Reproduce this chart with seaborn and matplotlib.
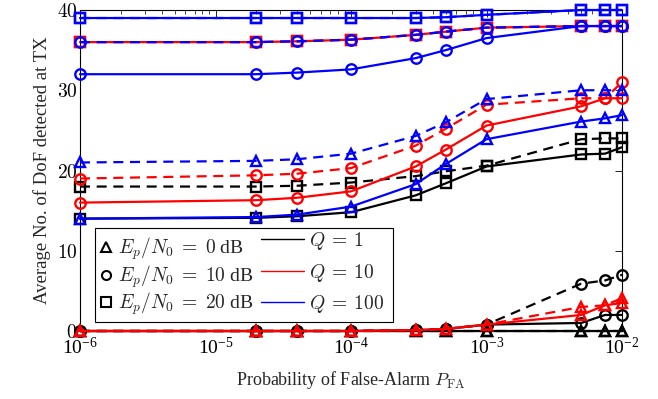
import matplotlib
matplotlib.use("Agg")
import matplotlib.pyplot as plt
import seaborn as sns
import pandas as pd
from matplotlib.lines import Line2D
from matplotlib.patches import Rectangle
from matplotlib.ticker import FixedLocator, FuncFormatter

sns.set_style("white")
plt.rcParams["font.family"] = ["Liberation Serif", "DejaVu Serif"]
plt.rcParams["mathtext.fontset"] = "cm"

# ---------------- data ----------------
pfa = [1e-6, 2e-5, 4e-5, 1e-4, 3e-4, 5e-4, 1e-3, 5e-3, 7.5e-3, 1e-2]

# Q = 1 (black)
q1_0db_solid = [0, 0, 0, 0, 0, 0, 0, 0, 0, 0]
q1_0db_dash = [0, 0, 0, 0, 0, 0, 0, 0, 0, 0]
q1_10db_solid = [0, 0, 0, 0, 0.1, 0.25, 0.8, 1.0, 2.0, 2.0]
q1_10db_dash = [0, 0, 0, 0, 0.1, 0.25, 0.8, 5.9, 6.3, 7.0]
q1_20db_solid = [14.0, 14.1, 14.3, 14.8, 16.9, 18.4, 20.5, 22.0, 22.1, 22.9]
q1_20db_dash = [18.0, 18.0, 18.1, 18.5, 19.3, 19.9, 20.6, 23.9, 24.0, 24.0]

# Q = 10 (red)
q10_0db_solid = [0, 0, 0, 0, 0.1, 0.25, 0.8, 2.0, 3.2, 3.5]
q10_0db_dash = [0, 0, 0, 0, 0.1, 0.25, 0.8, 3.0, 3.2, 4.1]
q10_10db_solid = [16.0, 16.3, 16.6, 17.4, 20.5, 22.6, 25.6, 28.0, 29.0, 29.0]
q10_10db_dash = [19.0, 19.4, 19.6, 20.3, 23.1, 25.2, 28.2, 29.0, 29.0, 31.0]
q10_20db_solid = [36.0, 36.0, 36.1, 36.3, 36.9, 37.3, 37.8, 38.0, 38.0, 38.0]
q10_20db_dash = [36.0, 36.0, 36.1, 36.3, 36.9, 37.3, 37.8, 38.0, 38.0, 38.0]

# Q = 100 (blue)
q100_0db_solid = [14.0, 14.2, 14.5, 15.5, 18.3, 20.8, 23.9, 26.1, 26.5, 26.9]
q100_0db_dash = [21.0, 21.2, 21.4, 22.1, 24.3, 26.0, 28.9, 30.0, 30.0, 30.0]
q100_10db_solid = [32.0, 32.0, 32.2, 32.6, 34.0, 35.0, 36.5, 38.0, 38.0, 38.0]
q100_10db_dash = [36.0, 36.0, 36.1, 36.3, 36.9, 37.3, 37.8, 38.0, 38.0, 38.0]
q100_20db_solid = [39.0, 39.0, 39.0, 39.0, 39.0, 39.1, 39.4, 40.0, 40.0, 40.0]
q100_20db_dash = [39.0, 39.0, 39.0, 39.0, 39.0, 39.1, 39.4, 40.0, 40.0, 40.0]

snr_labels = [r"$E_p/N_0\;=\;0$ dB", r"$E_p/N_0\;=\;10$ dB", r"$E_p/N_0\;=\;20$ dB"]
q_labels = [r"$Q\:=\:1$", r"$Q\:=\:10$", r"$Q\:=\:100$"]
xticks = [1e-6, 1e-5, 1e-4, 1e-3, 1e-2]
yticks = [0, 10, 20, 30, 40]

series = [
    ("k", "^", "-", q1_0db_solid), ("k", "^", "--", q1_0db_dash),
    ("k", "o", "-", q1_10db_solid), ("k", "o", "--", q1_10db_dash),
    ("k", "s", "-", q1_20db_solid), ("k", "s", "--", q1_20db_dash),
    ("red", "^", "-", q10_0db_solid), ("red", "^", "--", q10_0db_dash),
    ("red", "o", "-", q10_10db_solid), ("red", "o", "--", q10_10db_dash),
    ("red", "s", "-", q10_20db_solid), ("red", "s", "--", q10_20db_dash),
    ("blue", "^", "-", q100_0db_solid), ("blue", "^", "--", q100_0db_dash),
    ("blue", "o", "-", q100_10db_solid), ("blue", "o", "--", q100_10db_dash),
    ("blue", "s", "-", q100_20db_solid), ("blue", "s", "--", q100_20db_dash),
]

fig = plt.figure(figsize=(6.58, 3.99), dpi=100)
ax = fig.add_axes([80 / 658, 68 / 399, 542 / 658, 321 / 399])

for color, marker, ls, vals in series:
    df = pd.DataFrame({"x": pfa, "y": vals})
    sns.lineplot(data=df, x="x", y="y", ax=ax, color=color, linestyle=ls,
                 linewidth=1.6, marker=marker, markersize=7.5 if marker != "^" else 7,
                 markerfacecolor="none", markeredgecolor=color, markeredgewidth=1.7,
                 clip_on=False, zorder=3, legend=False)

for line in ax.get_lines():
    if line.get_linestyle() == "--":
        line.set_dashes([4.5, 3])

ax.set_xscale("log")
ax.set_xlim(1e-6, 1e-2)
ax.set_ylim(0, 40)
ax.xaxis.set_major_locator(FixedLocator(xticks))
ax.yaxis.set_major_locator(FixedLocator(yticks))
ax.yaxis.set_major_formatter(FuncFormatter(lambda v, p: f"${int(v)}$"))
ax.tick_params(which="both", direction="in", top=True, right=True, colors="k",
               labelsize=14)
ax.tick_params(which="major", length=5, width=0.6)
ax.tick_params(which="minor", length=3, width=0.5)
ax.tick_params(axis="x", pad=4)
ax.tick_params(axis="y", pad=2)
for s in ax.spines.values():
    s.set_color("k")
    s.set_linewidth(0.8)

ax.set_xlabel("Probability of False-Alarm $P_{\\mathrm{FA}}$", fontsize=13, labelpad=8)
ax.set_ylabel("Average No. of DoF detected at TX", fontsize=13.5, labelpad=4)

# legend: markers column and lines column inside one frame
mk_handles = [Line2D([], [], color="k", marker=m, linestyle="none", markersize=6.5,
                     markerfacecolor="none", markeredgewidth=1.5) for m in ["^", "o", "s"]]
ln_handles = [Line2D([], [], color=c, linewidth=1.0) for c in ["k", "red", "blue"]]

leg1 = ax.legend(mk_handles, snr_labels, loc="lower left",
                 bbox_to_anchor=(15 / 542, 10 / 321), frameon=False, fontsize=14,
                 handlelength=0.7, handletextpad=0.3, labelspacing=0.05,
                 borderaxespad=0, borderpad=0.2)
ax.add_artist(leg1)
leg2 = ax.legend(ln_handles, q_labels, loc="lower left",
                 bbox_to_anchor=(177 / 542, 12 / 321), frameon=False, fontsize=14,
                 handlelength=2.2, handletextpad=0.25, labelspacing=0.49,
                 borderaxespad=0, borderpad=0.2)
frame = Rectangle((15 / 542, 9 / 321), 298 / 542, 94 / 321, transform=ax.transAxes,
                  facecolor="white", edgecolor="k", linewidth=0.8, zorder=4)
ax.add_patch(frame)
leg1.set_zorder(5)
leg2.set_zorder(5)

fig.savefig("out.png", dpi=100)
